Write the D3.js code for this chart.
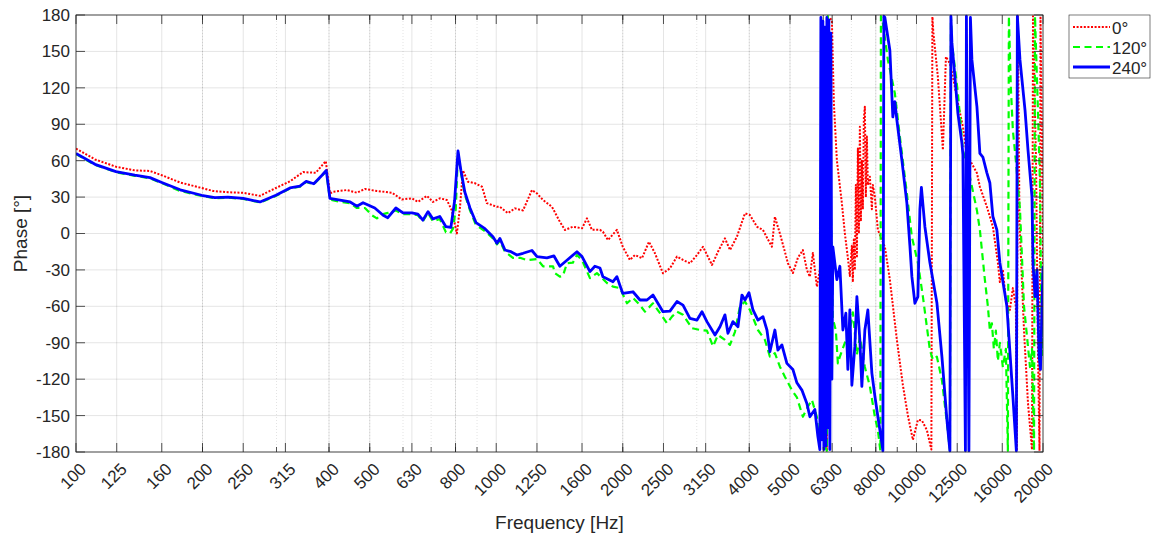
<!DOCTYPE html>
<html>
<head>
<meta charset="utf-8">
<script src="https://d3js.org/d3.v7.min.js"></script>
<style>
  body { margin: 0; background: #fff; }
  text { font-family: "Liberation Sans", Arial, Helvetica, sans-serif; fill: #262626; }
</style>
</head>
<body>
<div id="chart"></div>
<script>
// tick labels
var freqTicks = [100, 125, 160, 200, 250, 315, 400, 500, 630, 800, 1000, 1250, 1600, 2000,
                 2500, 3150, 4000, 5000, 6300, 8000, 10000, 12500, 16000, 20000];
var minorTicks = [200, 300, 400, 500, 600, 700, 800, 900, 2000, 3000, 4000, 5000, 6000, 7000, 8000, 9000];
var phaseTicks = [-180, -150, -120, -90, -60, -30, 0, 30, 60, 90, 120, 150, 180];
var seriesNames = ["0°", "120°", "240°"];

// 0° ([Hz, deg])
var phase0 = [[100,70],[111,61],[124.5,55],[138,52],[150,51.5],[160,48],[177,42],[199,37.5],[212,35],[230,34],[250,33.5],[274,31],[299,37.5],[323,43],[347,50.6],[372,50],[393,59.6],[402,33],[409,34.4],[441,35.8],[466,33.6],[487,36.7],[520,35],[565,33.6],[596,28],[630,29],[651,26],[684,31],[707,26],[734,29],[763,27.6],[784,19],[806,0],[820,22],[833,52],[856,42.7],[890,41.4],[925,38.5],[950,25],[1004,22],[1020,22],[1066,16.8],[1108,20.7],[1158,19],[1216,35.8],[1250,33],[1292,27.6],[1357,22],[1417,9.7],[1457,2.9],[1522,5.6],[1600,4.3],[1644,12.5],[1689,3],[1765,3],[1794,1.5],[1844,-5.4],[1937,3],[2000,-10.9],[2080,-21.8],[2138,-17.7],[2222,-20.4],[2309,-6.8],[2386,-16.3],[2493,-32.8],[2590,-28.7],[2692,-19],[2782,-21.8],[2890,-24.5],[3004,-17.7],[3104,-10.9],[3261,-25.9],[3370,-15],[3501,-4],[3599,-13.6],[3739,-2.6],[3907,16.6],[4015,15.2],[4172,5.6],[4312,2.9],[4432,-5],[4528,-10.9],[4603,13.8],[4731,0],[4862,-15],[4943,-24.5],[5080,-32.6],[5221,-20],[5366,-13.6],[5485,-30],[5576,-35.6],[5668,-16],[5794,-43.8],[5889,-30],[6020,-60],[6120,-179],[6153,178],[6290,176],[6359,107.5],[6464,60.5],[6644,25],[6754,0],[6866,-20],[6941,-35],[7018,-10],[7056,-40],[7094,-5],[7134,-30],[7173,40],[7214,-20],[7253,70],[7293,0],[7333,88],[7373,10],[7413,60],[7454,20],[7495,95],[7536,104.5],[7577,30],[7619,80],[7661,40],[7746,46.8],[7831,20],[7873,40],[7961,30],[8093,3],[8272,-5],[8409,-11],[8642,-38],[8981,-87.7],[9282,-125],[9540,-150],[9805,-170],[10077,-153.6],[10300,-154],[10587,-162],[10850,-178],[10910,178.6],[10970,165],[11243,129],[11557,68.8],[11750,145.6],[12010,140],[12209,129],[12548,107.5],[12896,88],[13110,70],[13400,60.5],[13925,49.8],[14152,38.5],[14706,22],[15197,5.6],[15619,-24],[15790,-40],[16053,-30],[16318,-55],[16680,-63],[16957,-45],[17237,-60],[17333,-179],[17427,179],[17582,10],[18024,-80],[18422,-140],[18830,-178],[18934,179],[19248,60],[19460,-100],[19620,-179],[19728,179],[19890,80],[20000,-30]];

// 120°
var phase120 = [[100,65.5],[111,56.5],[124.5,50.5],[138,47.5],[150,45.5],[160,41.5],[177,35],[199,31],[214,29],[230,29.5],[250,28.5],[274,25.5],[299,31],[323,37],[341,38.5],[353,42.5],[368,40.5],[385,47.5],[394,51],[402,28],[425,26],[449,25],[466,21],[487,21],[506,15],[520,12.5],[538,16],[552,17],[577,19],[600,16],[630,16],[651,15],[669,10],[688,17],[707,10],[734,12],[759,1],[776,0],[789,4],[801,20],[811,67],[824,50],[842,32],[866,19],[895,7],[940,2],[982,-4],[1004,-9],[1020,-6],[1049,-15],[1096,-20],[1139,-20],[1183,-22],[1250,-21],[1292,-27],[1365,-27],[1379,-32.6],[1417,-35.6],[1441,-35],[1473,-24.5],[1522,-24],[1556,-17.7],[1600,-22],[1671,-36.8],[1736,-32.6],[1834,-40.8],[1896,-43.8],[1970,-45],[2047,-57.5],[2115,-53],[2198,-59],[2258,-64.4],[2360,-57.5],[2453,-65.6],[2548,-74],[2619,-68.5],[2692,-64.4],[2782,-67],[2922,-78],[3053,-79.5],[3172,-80],[3279,-93],[3370,-83.6],[3501,-87.7],[3599,-91.8],[3699,-81],[3801,-60],[3907,-56],[4015,-63],[4195,-79.5],[4359,-87.7],[4479,-101.5],[4603,-98.5],[4731,-109.7],[4862,-118],[5052,-129],[5193,-135],[5366,-151],[5515,-142.7],[5637,-137],[5794,-151],[5857,-170],[5954,-165],[6053,-175],[6120,-179],[6153,179],[6221,60],[6324,-70],[6429,-80],[6500,-107],[6572,-101.5],[6754,-90],[6941,-80],[7056,-65],[7214,-100],[7333,-85],[7536,-110],[7746,-126],[7961,-151],[8093,-162],[8204,-179],[8229,179],[8318,173],[8549,143],[8882,115.6],[9131,79.5],[9487,33],[9751,-3],[10077,-24],[10357,-52],[10762,-96],[10940,-104],[11182,-101.5],[11495,-120.7],[11814,-156],[12010,-179],[12076,179],[12143,157],[12548,115.6],[12896,68.8],[13400,46.5],[13925,19],[14152,3],[14544,-38],[14786,-60],[14950,-80],[15114,-74],[15280,-95],[15448,-80],[15619,-105],[15790,-90],[16053,-110],[16318,-95],[16498,-179],[16589,179],[16771,120],[16957,85],[17237,60],[17630,20],[18024,-60],[18324,-85],[18624,-110],[18830,-95],[19038,-179],[19142,179],[19460,100],[19674,40],[19782,-40],[19890,-100],[20000,-60]];

// 240°
var phase240 = [[100,66],[111,57],[124.5,51],[138,48],[150,46],[160,42],[177,36],[199,31.5],[214,29.5],[230,30],[250,29],[274,26],[299,31.5],[323,37.5],[341,39],[353,43],[368,41],[385,48],[394,52],[402,29],[425,27.5],[449,26],[466,22.5],[482,25.4],[514,21],[538,15],[552,13],[577,21],[600,17],[630,17],[651,16],[669,11],[688,18],[707,12],[734,14],[759,5.6],[780,5],[796,27],[811,68],[824,52],[842,34],[866,21],[895,9],[940,4],[982,-2.6],[1004,-8],[1020,-4],[1049,-13.6],[1084,-15],[1120,-17.7],[1158,-16.3],[1216,-14],[1250,-19],[1320,-20],[1372,-18.5],[1417,-27],[1473,-22],[1556,-15],[1600,-19],[1671,-31.4],[1717,-27],[1765,-28.4],[1794,-35.6],[1896,-39.7],[1937,-35.6],[2000,-49.3],[2115,-48],[2198,-54.8],[2284,-54.8],[2360,-50.7],[2493,-64.4],[2590,-64],[2692,-56],[2782,-59],[2890,-70],[3004,-71.3],[3087,-64.4],[3172,-72.6],[3315,-83.6],[3407,-76.8],[3501,-67],[3559,-82.2],[3658,-72.6],[3760,-76.8],[3843,-50.7],[3907,-54.8],[3993,-48.7],[4082,-63],[4195,-71.3],[4312,-68.5],[4407,-79.5],[4479,-97.4],[4603,-79.5],[4679,-96],[4783,-91.8],[4916,-107],[5080,-112],[5193,-123],[5337,-129],[5485,-140],[5576,-151],[5730,-145],[5825,-167],[5889,-178],[5922,178],[5954,-170],[5987,175],[6020,-178],[6053,170],[6086,-175],[6120,178],[6153,-160],[6187,176],[6221,-178],[6255,165],[6290,-120],[6324,-11],[6464,-38],[6572,-27],[6681,-79.5],[6791,-65.7],[6866,-112],[6941,-63],[7018,-125],[7134,-93],[7214,-52],[7333,-88],[7413,-126],[7536,-79.5],[7661,-63],[7831,-115],[7961,-134],[8093,-151],[8272,-172.6],[8318,-179],[8363,179],[8409,178],[8642,151],[8785,96],[8882,108.6],[8981,93.5],[9231,60.5],[9487,25],[9645,-10],[9751,-35.6],[9913,-57.5],[10077,-52],[10188,20],[10272,38],[10471,5.6],[10762,-24],[11182,-57],[11495,-101.5],[11814,-153.6],[12010,-179],[12076,179],[12143,157],[12344,129],[12548,99],[12826,74.5],[12896,65],[13075,-179],[13146,179],[13328,-179],[13438,178],[13549,143],[13925,104.5],[14152,66],[14386,63],[14706,50],[14950,41.6],[15197,14],[15533,3],[15790,-24],[16408,-60],[16957,-134],[17285,-179],[17379,179],[17630,143],[18124,101.7],[18422,68.8],[18830,30],[18934,-24.5],[19142,-52],[19354,-30],[19566,-100],[19728,-112],[19890,-60],[20000,-27]];

var W = 1151, H = 539;
var margin = { top: 15, left: 76, right: 108, bottom: 87 };
var w = W - margin.left - margin.right,
    h = H - margin.top - margin.bottom;
var axisColor = "#262626";

var svg = d3.select("#chart").append("svg")
    .attr("width", W)
    .attr("height", H);

var x = d3.scaleLog().domain([100, 20000]).range([0, w]);
var y = d3.scaleLinear().domain([-180, 180]).range([h, 0]);

var g = svg.append("g")
    .attr("transform", "translate(" + margin.left + "," + margin.top + ")");

// minor grid (dotted)
g.append("g").selectAll("line")
    .data(minorTicks)
    .enter().append("line")
    .attr("x1", function (d) { return x(d); })
    .attr("x2", function (d) { return x(d); })
    .attr("y1", 0).attr("y2", h)
    .attr("stroke", "rgba(38,38,38,0.22)")
    .attr("stroke-width", 0.6)
    .attr("stroke-dasharray", "1,2");

// major grid
g.append("g").selectAll("line")
    .data(freqTicks)
    .enter().append("line")
    .attr("x1", function (d) { return x(d); })
    .attr("x2", function (d) { return x(d); })
    .attr("y1", 0).attr("y2", h)
    .attr("stroke", "rgba(38,38,38,0.12)");

g.append("g").selectAll("line")
    .data(phaseTicks)
    .enter().append("line")
    .attr("x1", 0).attr("x2", w)
    .attr("y1", function (d) { return y(d); })
    .attr("y2", function (d) { return y(d); })
    .attr("stroke", "rgba(38,38,38,0.12)");

// curves
svg.append("defs").append("clipPath").attr("id", "plotclip")
    .append("rect").attr("x", 0).attr("y", -1).attr("width", w).attr("height", h + 2);

var line = d3.line()
    .x(function (d) { return x(d[0]); })
    .y(function (d) { return y(d[1]); });

var series = [
    { name: seriesNames[0], data: phase0, color: "#ff0000", width: 2, dash: "2,1.6" },
    { name: seriesNames[1], data: phase120, color: "#00ff00", width: 2.2, dash: "7,4.5" },
    { name: seriesNames[2], data: phase240, color: "#0000ff", width: 2.8, dash: null }
];

var curves = g.append("g").attr("clip-path", "url(#plotclip)");
series.forEach(function (s) {
    curves.append("path")
        .datum(s.data)
        .attr("d", line)
        .attr("fill", "none")
        .attr("stroke", s.color)
        .attr("stroke-width", s.width)
        .attr("stroke-linejoin", "round")
        .attr("stroke-dasharray", s.dash);
});

// box + ticks
g.append("rect")
    .attr("width", w).attr("height", h)
    .attr("fill", "none")
    .attr("stroke", axisColor)
    .attr("stroke-width", 0.8);

var tickLen = 9, minorLen = 5;
var ticks = g.append("g").attr("stroke", axisColor).attr("stroke-width", 0.8);
freqTicks.forEach(function (d) {
    ticks.append("line").attr("x1", x(d)).attr("x2", x(d)).attr("y1", h).attr("y2", h - tickLen);
    ticks.append("line").attr("x1", x(d)).attr("x2", x(d)).attr("y1", 0).attr("y2", tickLen);
});
minorTicks.forEach(function (d) {
    ticks.append("line").attr("x1", x(d)).attr("x2", x(d)).attr("y1", h).attr("y2", h - minorLen);
    ticks.append("line").attr("x1", x(d)).attr("x2", x(d)).attr("y1", 0).attr("y2", minorLen);
});
phaseTicks.forEach(function (d) {
    ticks.append("line").attr("x1", 0).attr("x2", tickLen).attr("y1", y(d)).attr("y2", y(d));
    ticks.append("line").attr("x1", w).attr("x2", w - tickLen).attr("y1", y(d)).attr("y2", y(d));
});

// tick labels
g.append("g").selectAll("text")
    .data(phaseTicks)
    .enter().append("text")
    .attr("x", -6)
    .attr("y", function (d) { return y(d); })
    .attr("dy", "0.35em")
    .attr("text-anchor", "end")
    .style("font-size", "17px")
    .text(function (d) { return d; });

g.append("g").selectAll("text")
    .data(freqTicks)
    .enter().append("text")
    .attr("transform", function (d) { return "translate(" + (x(d) + 7) + "," + (h + 14) + ") rotate(-45)"; })
    .attr("dy", "0.35em")
    .attr("text-anchor", "end")
    .style("font-size", "17px")
    .text(function (d) { return d; });

// axis titles
svg.append("text")
    .attr("x", margin.left + w / 2)
    .attr("y", 529)
    .attr("text-anchor", "middle")
    .style("font-size", "19px")
    .text("Frequency [Hz]");

svg.append("text")
    .attr("transform", "translate(27," + (margin.top + h / 2) + ") rotate(-90)")
    .attr("text-anchor", "middle")
    .style("font-size", "19px")
    .text("Phase [°]");

// legend
var lg = svg.append("g").attr("transform", "translate(1069,15)");
lg.append("rect")
    .attr("width", 81).attr("height", 63)
    .attr("fill", "#fff")
    .attr("stroke", axisColor)
    .attr("stroke-width", 0.6);
series.forEach(function (s, i) {
    var yy = 12 + i * 20;
    lg.append("line")
        .attr("x1", 4).attr("x2", 41)
        .attr("y1", yy).attr("y2", yy)
        .attr("stroke", s.color)
        .attr("stroke-width", s.width)
        .attr("stroke-dasharray", s.dash);
    lg.append("text")
        .attr("x", 43).attr("y", yy + 1)
        .attr("dy", "0.35em")
        .style("font-size", "17px")
        .text(s.name);
});
</script>
</body>
</html>
